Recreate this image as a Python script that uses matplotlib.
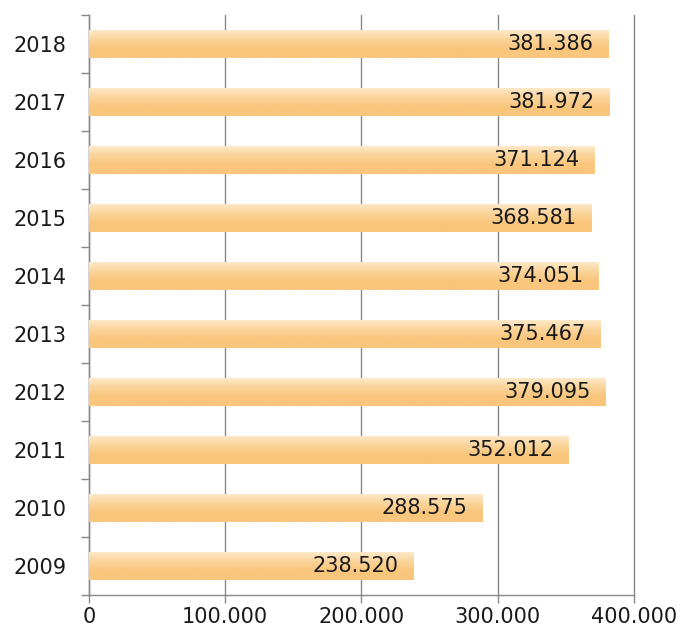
import numpy as np
import matplotlib.pyplot as plt
from matplotlib.colors import LinearSegmentedColormap

# Datos
anios = ['2009', '2010', '2011', '2012', '2013', '2014', '2015', '2016', '2017', '2018']
valores = [238520, 288575, 352012, 379095, 375467, 374051, 368581, 371124, 381972, 381386]
etiquetas = ['238.520', '288.575', '352.012', '379.095', '375.467',
             '374.051', '368.581', '371.124', '381.972', '381.386']
ticks_x = [0, 100000, 200000, 300000, 400000]
ticks_x_txt = ['0', '100.000', '200.000', '300.000', '400.000']

plt.rcParams['font.family'] = ['DejaVu Sans']

fig = plt.figure(figsize=(6.82, 6.30), dpi=100)
ax = fig.add_axes([0.1305, 0.0556, 0.7990, 0.9206])

y = np.arange(len(anios))
alto = 0.48

# degradado vertical de las barras (claro arriba, naranja abajo)
cmap = LinearSegmentedColormap.from_list('naranja', ['#f9c67c', '#f9c67c', '#fbd49a', '#fde8c8'])
grad = np.linspace(0, 1, 64).reshape(-1, 1)

bars = ax.barh(y, valores, height=alto, color='#f9c67c', edgecolor='none', zorder=2)
for b in bars:
    x0, y0 = b.get_x(), b.get_y()
    w, h = b.get_width(), b.get_height()
    im = ax.imshow(grad, cmap=cmap, aspect='auto', origin='lower',
                   extent=[x0, x0 + w, y0, y0 + h], zorder=3)
    im.set_clip_path(b)

for yi, v, t in zip(y, valores, etiquetas):
    ax.text(v - 11000, yi, t, ha='right', va='center', fontsize=15,
            color='#1a1a1a', zorder=4)

ax.set_xlim(0, 400000)
ax.set_ylim(-0.5, len(anios) - 0.5)
ax.set_xticks(ticks_x)
ax.set_xticklabels(ticks_x_txt, fontsize=15, color='#1a1a1a')
ax.set_yticks(y)
ax.set_yticklabels(anios, fontsize=15, color='#1a1a1a')
ax.set_yticks(np.arange(-0.5, len(anios), 1), minor=True)

ax.tick_params(axis='y', which='major', length=0, pad=16)
ax.tick_params(axis='y', which='minor', length=6, color='#888888', width=1)
ax.tick_params(axis='x', length=6, color='#888888', width=1, pad=3)

ax.grid(axis='x', color='#888888', linewidth=1, zorder=0)
ax.set_axisbelow(True)
for gl in ax.get_xgridlines():
    gl.set_clip_on(False)

for s in ['top', 'right']:
    ax.spines[s].set_visible(False)
for s in ['left', 'bottom']:
    ax.spines[s].set_color('#888888')
    ax.spines[s].set_linewidth(1)

fig.savefig('out.png', dpi=100)
